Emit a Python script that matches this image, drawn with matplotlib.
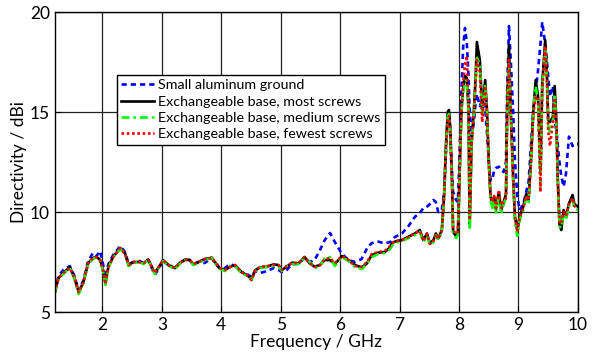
import matplotlib
matplotlib.use('Agg')
import matplotlib.pyplot as plt

# Frequenz in GHz
freq = [1.20, 1.26, 1.34, 1.45, 1.53, 1.60, 1.68, 1.76, 1.84, 1.90,
        1.96, 2.01, 2.05, 2.10, 2.18, 2.30, 2.38, 2.44, 2.52, 2.63,
        2.69, 2.77, 2.88, 2.97, 3.02, 3.11, 3.22, 3.30, 3.39, 3.47,
        3.53, 3.61, 3.72, 3.84, 3.89, 3.98, 4.06, 4.15, 4.23, 4.34,
        4.43, 4.51, 4.57, 4.65, 4.77, 4.88, 4.96, 5.02, 5.10, 5.19,
        5.30, 5.40, 5.49, 5.57, 5.66, 5.74, 5.83, 5.91, 6.03, 6.14,
        6.25, 6.36, 6.45, 6.53, 6.64, 6.75, 6.84, 6.87, 6.92, 7.04,
        7.15, 7.26, 7.34, 7.40, 7.46, 7.51, 7.57, 7.61, 7.65, 7.71,
        7.75, 7.78, 7.81, 7.83, 7.85, 7.88, 7.90, 7.95, 7.98, 8.00,
        8.04, 8.07, 8.10, 8.13, 8.16, 8.17, 8.18, 8.21, 8.25, 8.28,
        8.30, 8.35, 8.39, 8.44, 8.47, 8.50, 8.53, 8.56, 8.59, 8.62,
        8.67, 8.71, 8.75, 8.79, 8.81, 8.84, 8.87, 8.91, 8.94, 8.98,
        9.02, 9.08, 9.13, 9.17, 9.21, 9.25, 9.29, 9.33, 9.37, 9.40,
        9.45, 9.48, 9.50, 9.53, 9.58, 9.61, 9.64, 9.66, 9.69, 9.72,
        9.76, 9.80, 9.85, 9.91, 9.94, 10.00]

# Directivity in dBi
small_alu = [6.05, 6.8, 7.1, 7.3, 6.8, 6.05, 6.6, 7.55, 7.95, 7.8,
             8.05, 7.4, 6.7, 7.4, 7.85, 8.3, 8.0, 7.4, 7.5, 7.55,
             7.45, 7.6, 6.85, 7.3, 7.55, 7.35, 7.2, 7.45, 7.6, 7.6,
             7.35, 7.5, 7.45, 7.7, 7.45, 7.15, 7.2, 7.4, 7.3, 7.0,
             6.9, 6.75, 7.05, 6.95, 7.05, 7.2, 7.1, 7.0, 7.1, 7.4,
             7.4, 7.7, 7.5, 7.6, 8.1, 8.6, 8.95, 8.5, 7.9, 7.6,
             7.5, 7.65, 8.18, 8.45, 8.52, 8.43, 8.5, 8.6, 8.75, 8.93,
             9.3, 9.77, 9.95, 10.2, 10.27, 10.4, 10.6, 10.5, 10.0, 10.1,
             11.0, 13.0, 14.8, 15.0, 14.2, 12.0, 11.0, 10.6, 10.5, 12.0,
             16.0, 18.3, 19.2, 18.5, 16.8, 15.8, 15.1, 13.8, 14.5, 15.5,
             15.9, 15.3, 15.6, 15.2, 14.0, 12.6, 11.6, 11.6, 12.1, 12.2,
             12.27, 12.1, 12.0, 12.5, 16.0, 19.3, 17.6, 15.1, 12.6, 10.8,
             10.1, 10.4, 11.0, 11.5, 13.3, 15.1, 16.0, 17.1, 18.4, 19.5,
             18.4, 17.5, 16.8, 15.77, 16.3, 14.6, 14.0, 13.4, 12.5, 11.8,
             11.27, 11.93, 13.77, 13.3, 13.4, 13.4]

most_screws = [6.0, 6.7, 6.95, 7.25, 6.7, 6.0, 6.5, 7.45, 7.7, 7.77,
               7.6, 7.1, 6.45, 7.27, 7.77, 8.2, 7.93, 7.35, 7.5, 7.5,
               7.43, 7.63, 6.95, 7.35, 7.6, 7.35, 7.2, 7.45, 7.63, 7.6,
               7.38, 7.5, 7.65, 7.72, 7.5, 7.18, 7.1, 7.27, 7.35, 7.0,
               6.85, 6.65, 7.1, 7.22, 7.27, 7.38, 7.35, 7.1, 7.27, 7.47,
               7.43, 7.75, 7.43, 7.27, 7.35, 7.6, 7.6, 7.4, 7.8, 7.6,
               7.35, 7.23, 7.43, 7.85, 7.97, 8.0, 8.23, 8.45, 8.52, 8.6,
               8.77, 8.93, 9.1, 8.6, 8.93, 8.43, 8.6, 8.93, 8.68, 9.1,
               10.9, 13.4, 15.0, 15.1, 14.3, 11.8, 9.0, 8.8, 8.95, 10.9,
               15.1, 16.2, 16.8, 16.7, 15.1, 11.8, 9.4, 13.4, 15.1, 16.8,
               18.5, 17.6, 15.1, 16.6, 15.1, 12.6, 10.77, 10.4, 10.77, 10.1,
               11.0, 10.1, 10.5, 10.9, 15.1, 18.35, 15.1, 11.8, 9.77, 9.1,
               9.77, 10.27, 10.9, 10.6, 12.6, 15.1, 16.6, 15.77, 11.9, 16.43,
               18.6, 16.8, 14.6, 14.5, 14.77, 16.3, 14.4, 11.8, 9.4, 9.1,
               10.1, 9.77, 10.43, 10.85, 10.4, 10.27]

medium_screws = [5.95, 6.65, 6.9, 7.2, 6.65, 5.9, 6.45, 7.4, 7.65, 7.75,
                 7.55, 7.05, 6.35, 7.2, 7.75, 8.15, 7.9, 7.3, 7.45, 7.5,
                 7.4, 7.6, 6.9, 7.3, 7.55, 7.3, 7.15, 7.4, 7.6, 7.55,
                 7.35, 7.45, 7.6, 7.7, 7.45, 7.15, 7.05, 7.3, 7.3, 6.95,
                 6.8, 6.6, 7.05, 7.2, 7.25, 7.3, 7.3, 7.05, 7.3, 7.4,
                 7.4, 7.7, 7.5, 7.2, 7.3, 7.7, 7.75, 7.3, 7.75, 7.55,
                 7.25, 7.15, 7.4, 7.75, 7.9, 7.95, 8.15, 8.3, 8.45, 8.55,
                 8.7, 8.85, 9.0, 8.5, 8.8, 8.35, 8.5, 8.85, 8.6, 9.0,
                 10.8, 13.3, 14.8, 14.9, 14.1, 11.6, 8.9, 8.7, 8.85, 10.8,
                 15.0, 16.0, 16.5, 16.6, 15.0, 11.5, 9.1, 13.3, 15.0, 16.6,
                 17.7, 17.4, 14.9, 16.3, 15.0, 12.5, 10.6, 10.2, 10.6, 9.9,
                 10.8, 9.9, 10.4, 10.7, 15.0, 17.5, 15.0, 11.6, 9.5, 8.8,
                 9.6, 10.1, 10.7, 10.5, 12.5, 15.0, 16.3, 15.5, 11.3, 16.2,
                 18.2, 16.6, 14.3, 14.0, 14.6, 15.9, 14.2, 11.6, 9.3, 9.2,
                 9.9, 9.6, 10.3, 10.6, 10.2, 10.1]

fewest_screws = [6.0, 6.7, 6.95, 7.2, 6.7, 6.0, 6.5, 7.45, 7.7, 7.75,
                 7.6, 7.1, 6.4, 7.25, 7.75, 8.2, 7.9, 7.35, 7.5, 7.5,
                 7.45, 7.6, 6.95, 7.35, 7.6, 7.35, 7.2, 7.45, 7.6, 7.6,
                 7.4, 7.5, 7.65, 7.7, 7.5, 7.2, 7.1, 7.25, 7.35, 7.0,
                 6.85, 6.6, 7.1, 7.25, 7.3, 7.35, 7.35, 7.1, 7.3, 7.45,
                 7.45, 7.75, 7.45, 7.25, 7.35, 7.65, 7.7, 7.45, 7.8, 7.6,
                 7.3, 7.25, 7.5, 7.9, 8.0, 8.05, 8.3, 8.4, 8.55, 8.6,
                 8.75, 8.95, 9.05, 8.55, 8.9, 8.4, 8.55, 8.9, 8.65, 9.05,
                 10.8, 13.2, 14.7, 14.8, 14.0, 11.7, 9.1, 8.9, 9.0, 10.8,
                 15.2, 16.5, 17.4, 17.8, 15.3, 11.9, 9.6, 13.3, 15.0, 16.5,
                 17.6, 17.0, 14.5, 16.3, 14.8, 12.4, 10.9, 10.5, 10.8, 10.2,
                 11.1, 10.2, 10.5, 10.7, 15.0, 17.7, 15.0, 11.7, 9.8, 9.0,
                 9.7, 10.2, 10.8, 10.6, 12.4, 14.9, 15.8, 15.6, 11.0, 16.1,
                 18.3, 16.5, 14.1, 13.3, 14.5, 15.7, 14.2, 11.7, 9.5, 9.4,
                 10.0, 9.8, 10.4, 10.7, 10.3, 10.2]

labels = ['Small aluminum ground',
          'Exchangeable base, most screws',
          'Exchangeable base, medium screws',
          'Exchangeable base, fewest screws']

plt.rcParams['font.family'] = ['Lato', 'DejaVu Sans']

fig = plt.figure(figsize=(5.97, 3.53), dpi=100)
ax = fig.add_axes([0.092, 0.116, 0.876, 0.85])

ax.plot(freq, small_alu, color='#0000FF', linewidth=1.9, linestyle=(0, (2, 1.5)), label=labels[0])
ax.plot(freq, most_screws, color='black', linewidth=1.9, linestyle='-', label=labels[1])
ax.plot(freq, medium_screws, color='#00FF00', linewidth=1.9, linestyle=(0, (3, 1.5, 1, 1.5)), label=labels[2])
ax.plot(freq, fewest_screws, color='#FF0000', linewidth=1.9, linestyle=(0, (1, 1)), label=labels[3])

ax.set_xlim(1.2, 10)
ax.set_ylim(5, 20)
ax.set_xticks([2, 3, 4, 5, 6, 7, 8, 9, 10])
ax.set_yticks([5, 10, 15, 20])
ax.tick_params(direction='in', labelsize=12.5, length=4)
ax.grid(True, color='#222222', linewidth=0.9)
ax.set_axisbelow(True)
for sp in ax.spines.values():
    sp.set_linewidth(1.0)

ax.set_xlabel('Frequency / GHz', fontsize=12.5, labelpad=1)
ax.set_ylabel('Directivity / dBi', fontsize=12.5, labelpad=2)

leg = ax.legend(loc='upper left', bbox_to_anchor=(0.1185, 0.79), borderaxespad=0,
                fontsize=10.3, fancybox=False, framealpha=1, edgecolor='black',
                handlelength=2.3, handletextpad=0.3, labelspacing=0.3,
                borderpad=0.3)
leg.get_frame().set_linewidth(1.0)

plt.savefig('out.png', dpi=100)
plt.close()
